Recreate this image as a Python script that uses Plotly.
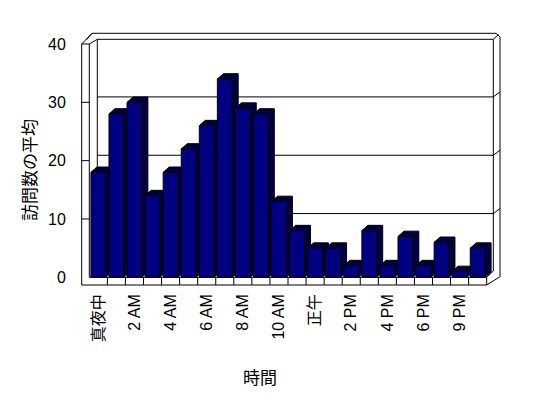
import plotly.graph_objects as go

# ---- data ----
categories = ['真夜中', '1 AM', '2 AM', '3 AM', '4 AM', '5 AM', '6 AM', '7 AM',
              '8 AM', '9 AM', '10 AM', '11 AM', '正午', '1 PM', '2 PM', '3 PM',
              '4 PM', '5 PM', '6 PM', '7 PM', '9 PM', '10 PM']
visits = [18, 28, 30, 14, 18, 22, 26, 34, 29, 28, 13, 8, 5, 5, 2, 8, 2, 7, 2, 6, 1, 5]
y_ticks = [0, 10, 20, 30, 40]
x_title = '時間'
y_title = '訪問数の平均'

# ---- geometry (pixel layout helpers, style only) ----
W, H = 548, 398
ML, MR, MT, MB = 80, 40, 30, 108
S = (486.7 - 89.3) / len(categories)      # px per category
K = (277.3 - 44.0) / 40.0                 # px per unit
X0 = -0.5 - (89.3 - ML) / S
X1 = X0 + (W - ML - MR) / S
Y_TOP = (277.3 - MT) / K
Y_BOT = (277.3 - (H - MB)) / K


def X(p):
    return X0 + (p - ML) / S


def Y(q):
    return (277.3 - q) / K


idx = list(range(len(categories)))
bar_w = 0.82
dx = 6.0 / S
dy = 5.3 / K

FONT = 'Liberation Sans, Arial, Noto Sans CJK JP, sans-serif'
CJK = 'Noto Sans CJK JP, sans-serif'

line = dict(color='black', width=1)
shapes = []


def seg(p1, p2):
    shapes.append(dict(type='line', xref='x', yref='y', layer='between',
                       x0=X(p1[0]), y0=Y(p1[1]), x1=X(p2[0]), y1=Y(p2[1]), line=line))


def poly(pts, fill=None, layer='between'):
    d = 'M ' + ' L '.join(f'{X(a):.4f},{Y(b):.4f}' for a, b in pts) + ' Z'
    shapes.append(dict(type='path', xref='x', yref='y', layer=layer, path=d,
                       line=line, fillcolor=fill if fill else 'rgba(0,0,0,0)'))


# outer frame
poly([(81.7, 285), (81.7, 44), (92, 33.3), (496, 33.3), (500, 37),
      (500, 276.7), (486.7, 285)])
# left wall
seg((89.3, 44), (89.3, 277.3))
seg((81.7, 44), (89.3, 44))
seg((89.3, 44), (97.3, 39.3))
seg((86.5, 39.8), (92, 33.3))
# back wall
seg((97.3, 39.3), (97.3, 271))
seg((97.3, 39.3), (493.3, 39.3))
seg((493.3, 39.3), (493.3, 271))
seg((493.3, 39.3), (498.5, 34.5))
# floor
seg((89.3, 277.3), (486.7, 277.3))
seg((486.7, 277.3), (486.7, 285))
seg((486.7, 277.3), (493.3, 271))
# back gridlines + left-wall ticks
for v in y_ticks[1:-1]:
    q = 277.3 - v * K - 5.4
    seg((97.3, q), (493.3, q))
    seg((493.3, q), (500, q - 5))
    qf = 277.3 - v * K
    seg((81.7, qf), (89.3, qf))
# floor category separators
for k in range(1, len(categories)):
    xs = k - 0.5
    shapes.append(dict(type='line', xref='x', yref='y', layer='between',
                       x0=xs, x1=xs, y0=Y(277.3), y1=Y(285), line=line))

# 3-D side/top faces of bars, computed from data
for i, v in zip(idx, visits):
    L = i - bar_w / 2
    R = i + bar_w / 2
    d = (f'M {L:.4f},{v:.4f} L {L+dx:.4f},{v+dy:.4f} L {R+dx:.4f},{v+dy:.4f} '
         f'L {R+dx:.4f},{dy:.4f} L {R:.4f},0 L {R:.4f},{v:.4f} Z')
    shapes.append(dict(type='path', xref='x', yref='y', layer='between', path=d,
                       line=line, fillcolor='#000040'))

fig = go.Figure()
fig.add_trace(go.Bar(
    x=idx, y=visits, width=bar_w, customdata=categories,
    marker=dict(color='#000080', line=dict(color='black', width=1)),
    hovertemplate='%{customdata}: %{y}<extra></extra>',
))

fig.update_layout(
    width=W, height=H,
    margin=dict(l=ML, r=MR, t=MT, b=MB),
    paper_bgcolor='white', plot_bgcolor='white',
    showlegend=False,
    font=dict(family=FONT, size=14, color='black'),
    shapes=shapes,
    xaxis=dict(range=[X0, X1], tickmode='array', tickvals=idx[::2],
               ticktext=categories[::2], tickangle=-90,
               showgrid=False, zeroline=False, showline=False, ticks='',
               tickfont=dict(family=FONT, size=16, color='black')),
    yaxis=dict(range=[Y_BOT, Y_TOP], tickmode='array', tickvals=y_ticks,
               showgrid=False, zeroline=False, showline=False,
               ticks='outside', ticklen=10, tickcolor='rgba(0,0,0,0)',
               tickfont=dict(family=FONT, size=16, color='black')),
    annotations=[
        dict(text=x_title, xref='paper', yref='paper', showarrow=False,
             x=(259.5 - ML) / (W - ML - MR), y=(H - MB - 376) / (H - MT - MB),
             xanchor='center', yanchor='middle', font=dict(family=CJK, size=17)),
        dict(text=y_title, xref='paper', yref='paper', showarrow=False,
             textangle=-90, x=(28 - ML) / (W - ML - MR),
             y=(H - MB - 170) / (H - MT - MB),
             xanchor='center', yanchor='middle', font=dict(family=CJK, size=17)),
    ],
)

fig.write_html('out.html')
